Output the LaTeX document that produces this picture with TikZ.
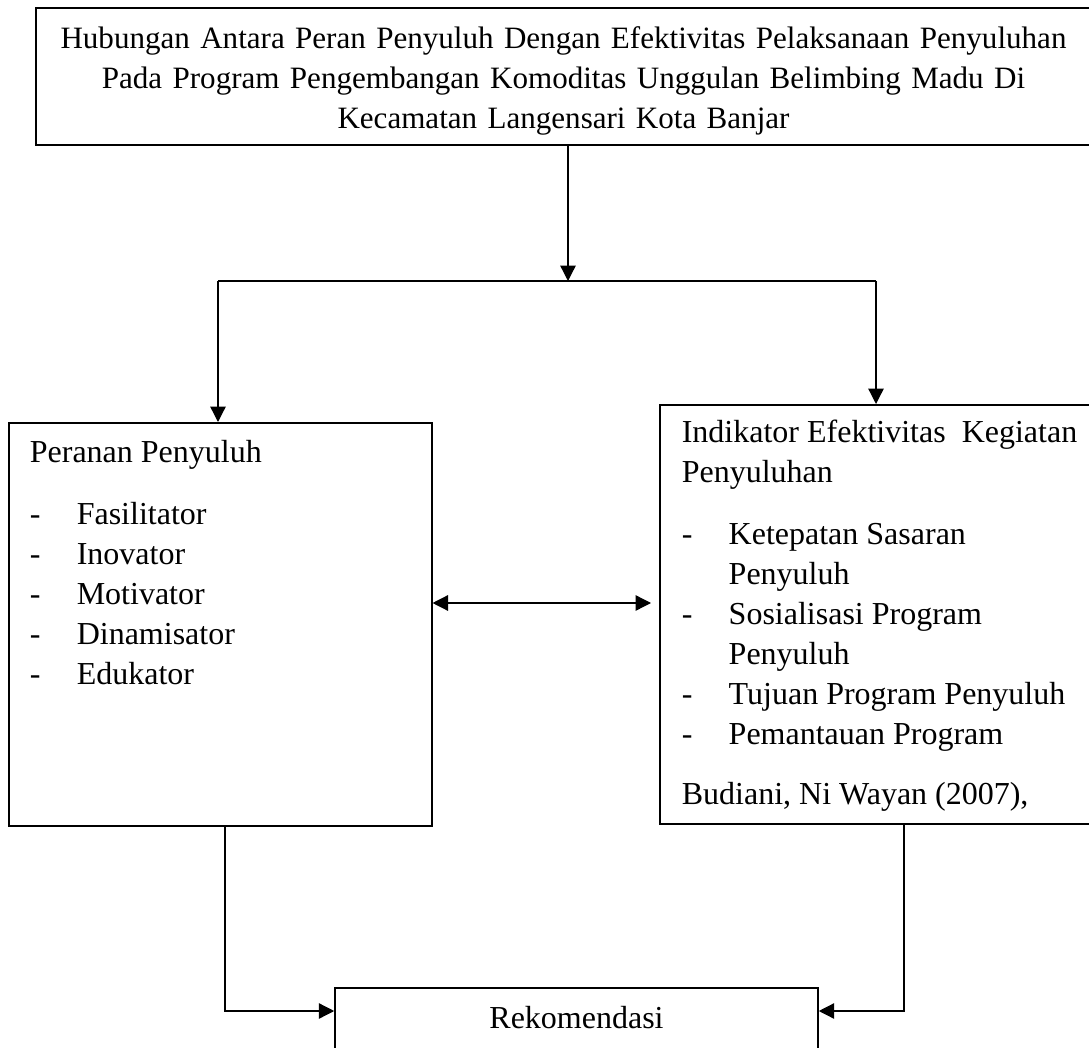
\documentclass[tikz,border=0pt]{standalone}
\usepackage{fontspec}
\setmainfont{Liberation Serif}
\usetikzlibrary{arrows.meta}

\newcommand{\butir}[1]{\makebox[17.6pt][l]{-}#1\par}
\newcommand{\lanjut}[1]{\hspace*{17.6pt}#1\par}

\begin{document}
\begin{tikzpicture}[x=0.375pt,y=-0.375pt,
  kotak/.style={draw,line width=0.6pt,rectangle,anchor=north west},
  panah/.style={line width=0.5pt,-{Triangle[length=5.8pt,width=5.8pt]}},
  garis/.style={line width=0.5pt}]
\useasboundingbox (0,0) rectangle (1089,1048);

% judul
\node[draw,line width=0.6pt,minimum width=395.6pt,minimum height=51.4pt,inner xsep=2pt,
  text width=391pt,align=center,font=\fontsize{11.65}{15}\selectfont] (judul) at (563.5,76.5)
  {\rule{0pt}{11.5pt}Hubungan Antara Peran Penyuluh Dengan Efektivitas Pelaksanaan Penyuluhan\\
   Pada Program Pengembangan Komoditas Unggulan Belimbing Madu Di\\
   Kecamatan Langensari Kota Banjar};

% dua kotak tengah
\node[kotak,minimum width=158.6pt,inner xsep=7.9pt,inner ysep=4.5pt] (peran) at (8,422)
  {\begin{minipage}[t][142.1pt][t]{142.8pt}\fontsize{12}{15}\selectfont
   \strut Peranan Penyuluh\par\vspace{8pt}
   \butir{Fasilitator}\butir{Inovator}\butir{Motivator}\butir{Dinamisator}\butir{Edukator}
   \end{minipage}};
\node[kotak,minimum width=162pt,inner xsep=8.25pt,inner ysep=3.75pt] (indikator) at (659,404)
  {\begin{minipage}[t][149.6pt][t]{145.5pt}\fontsize{12}{15}\selectfont
   \strut\mbox{Indikator Efektivitas\ \ Kegiatan}\par
   Penyuluhan\par\vspace{8pt}
   \butir{Ketepatan Sasaran}\lanjut{Penyuluh}
   \butir{Sosialisasi Program}\lanjut{Penyuluh}
   \butir{Tujuan Program Penyuluh}\butir{Pemantauan Program}\vspace{7.5pt}
   Budiani, Ni Wayan (2007),
   \end{minipage}};

% rekomendasi
\node[draw,line width=0.6pt,minimum width=181.1pt,inner ysep=4.4pt,text height=11pt,
  text depth=11pt,anchor=north,font=\fontsize{12}{15}\selectfont] (rekom) at (576.5,987) {Rekomendasi};

% percabangan
\coordinate (cabang) at (568,281);
\coordinate (kiri) at (218,281);
\coordinate (kanan) at (876,281);
\draw[panah] (judul.south -| cabang) -- (cabang);
\draw[garis] (kiri) -- (kanan);
\draw[panah] (kiri) -- (kiri |- peran.north);
\draw[panah] (kanan) -- (kanan |- indikator.north);

% hubungan
\coordinate (tengah) at (544,603);
\draw[line width=0.5pt,{Triangle[length=5.8pt,width=5.8pt]}-{Triangle[length=5.8pt,width=5.8pt]},
  shorten >=3pt] (peran.east |- tengah) -- (indikator.west |- tengah);

% ke rekomendasi
\coordinate (sikukiri) at (225,1011);
\coordinate (sikukanan) at (904,1011);
\draw[panah] (peran.south -| sikukiri) -- (sikukiri) -- (rekom.west |- sikukiri);
\draw[panah] (indikator.south -| sikukanan) -- (sikukanan) -- (rekom.east |- sikukanan);
\end{tikzpicture}
\end{document}
